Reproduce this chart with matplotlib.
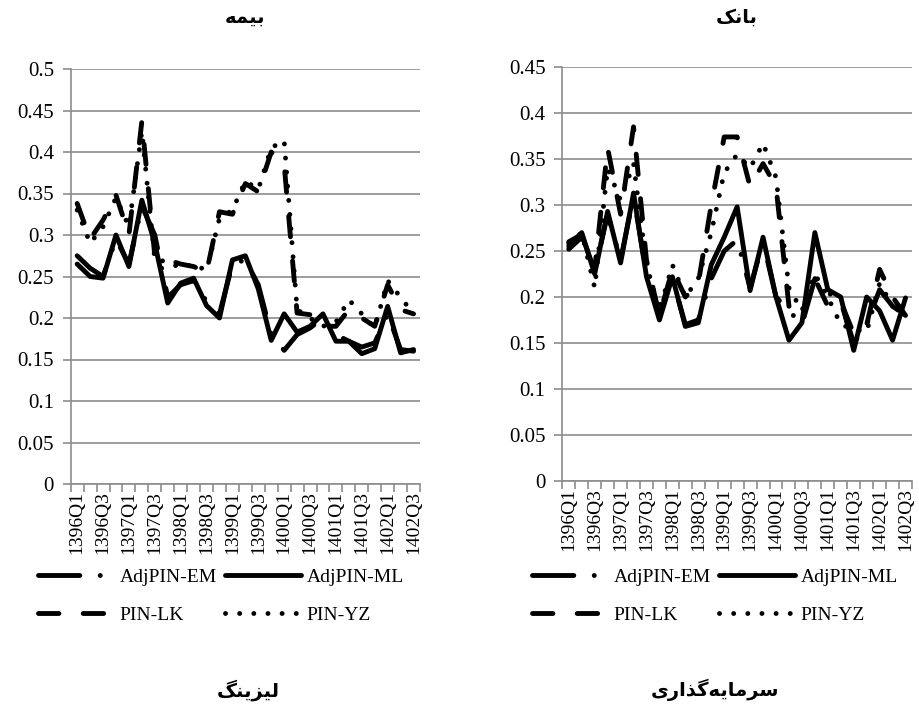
import numpy as np
import matplotlib
matplotlib.use('Agg')
import matplotlib.pyplot as plt
from matplotlib.lines import Line2D

# ---- data ----
quarters = ['1396Q1', '1396Q2', '1396Q3', '1396Q4', '1397Q1', '1397Q2', '1397Q3',
            '1397Q4', '1398Q1', '1398Q2', '1398Q3', '1398Q4', '1399Q1', '1399Q2',
            '1399Q3', '1399Q4', '1400Q1', '1400Q2', '1400Q3', '1400Q4', '1401Q1',
            '1401Q2', '1401Q3', '1401Q4', '1402Q1', '1402Q2', '1402Q3']
series_names = ['AdjPIN-EM', 'AdjPIN-ML', 'PIN-LK', 'PIN-YZ']

# insurance (left panel)
ins_em = [0.275, 0.260, 0.250, 0.295, 0.265, 0.335, 0.300, 0.225, 0.240, 0.245, 0.220, 0.205, 0.265, 0.270,
          0.240, 0.180, 0.161, 0.180, 0.188, 0.200, 0.180, 0.172, 0.165, 0.170, 0.205, 0.162, 0.160]
ins_ml = [0.265, 0.250, 0.248, 0.300, 0.262, 0.342, 0.290, 0.218, 0.242, 0.248, 0.215, 0.200, 0.270, 0.275,
          0.235, 0.173, 0.205, 0.183, 0.190, 0.205, 0.172, 0.172, 0.157, 0.163, 0.214, 0.158, 0.162]
ins_lk = [0.338, 0.295, 0.318, 0.348, 0.300, 0.437, 0.275, 0.270, 0.265, 0.262, 0.255, 0.328, 0.325, 0.362,
          0.352, 0.400, 0.385, 0.206, 0.204, 0.190, 0.190, 0.210, 0.200, 0.190, 0.240, 0.210, 0.205]
ins_yz = [0.330, 0.290, 0.310, 0.345, 0.310, 0.425, 0.270, 0.268, 0.260, 0.265, 0.257, 0.320, 0.330, 0.365,
          0.355, 0.405, 0.414, 0.210, 0.200, 0.190, 0.195, 0.222, 0.205, 0.188, 0.245, 0.225, 0.205]

# bank (right panel)
bank_em = [0.260, 0.268, 0.228, 0.290, 0.240, 0.310, 0.225, 0.180, 0.220, 0.170, 0.175, 0.220, 0.250, 0.262,
           0.210, 0.260, 0.200, 0.185, 0.170, 0.220, 0.205, 0.195, 0.150, 0.170, 0.208, 0.190, 0.180]
bank_ml = [0.255, 0.270, 0.225, 0.293, 0.237, 0.313, 0.222, 0.175, 0.222, 0.168, 0.172, 0.235, 0.265, 0.298,
           0.207, 0.265, 0.200, 0.153, 0.172, 0.270, 0.208, 0.200, 0.142, 0.200, 0.185, 0.153, 0.199]
bank_lk = [0.252, 0.265, 0.230, 0.362, 0.290, 0.385, 0.240, 0.180, 0.230, 0.200, 0.215, 0.300, 0.374, 0.374,
           0.320, 0.345, 0.320, 0.190, 0.175, 0.220, 0.190, 0.195, 0.160, 0.170, 0.230, 0.200, 0.180]
bank_yz = [0.258, 0.270, 0.210, 0.340, 0.305, 0.345, 0.235, 0.185, 0.235, 0.200, 0.220, 0.270, 0.335, 0.355,
           0.340, 0.367, 0.330, 0.210, 0.185, 0.225, 0.200, 0.170, 0.165, 0.162, 0.215, 0.190, 0.180]

top_titles = ['بیمه', 'بانک']
bottom_titles = ['لیزینگ', 'سرمایه\u200cگذاری']

# ---- minimal persian shaping (matplotlib has no bidi / joining) ----
FORMS = {
    'ب': '\uFE8F\uFE90\uFE91\uFE92', 'ی': '\uFBFC\uFBFD\uFBFE\uFBFF',
    'م': '\uFEE1\uFEE2\uFEE3\uFEE4', 'ه': '\uFEE9\uFEEA\uFEEB\uFEEC',
    'ن': '\uFEE5\uFEE6\uFEE7\uFEE8', 'ک': '\uFB8E\uFB8F\uFB90\uFB91',
    'ل': '\uFEDD\uFEDE\uFEDF\uFEE0', 'گ': '\uFB92\uFB93\uFB94\uFB95',
    'س': '\uFEB1\uFEB2\uFEB3\uFEB4', 'ا': '\uFE8D\uFE8E',
    'ز': '\uFEAF\uFEB0', 'ر': '\uFEAD\uFEAE', 'ذ': '\uFEAB\uFEAC',
}
DUAL = set('بیمهنکلگس')


def shape_fa(text):
    out = []
    for i, ch in enumerate(text):
        if ch not in FORMS:
            if ch != '\u200c':
                out.append(ch)
            continue
        prev = text[i - 1] if i > 0 else ''
        nxt = text[i + 1] if i + 1 < len(text) else ''
        j_prev = prev in DUAL
        j_next = ch in DUAL and nxt in FORMS
        f = FORMS[ch]
        if j_prev and j_next:
            out.append(f[3])
        elif j_prev:
            out.append(f[1])
        elif j_next:
            out.append(f[2])
        else:
            out.append(f[0])
    return ''.join(reversed(out))


plt.rcParams['font.family'] = ['Liberation Serif', 'DejaVu Sans']

LW = 3.5
styles = {
    'AdjPIN-EM': dict(linestyle=(0, (8.5, 4.2, 0.01, 4.2)), dash_capstyle='round'),
    'AdjPIN-ML': dict(linestyle='-', solid_capstyle='round'),
    'PIN-LK': dict(linestyle=(0, (4.2, 5.0)), dash_capstyle='round'),
    'PIN-YZ': dict(linestyle=(0, (0.01, 2.9)), dash_capstyle='round'),
}
GRID = '#8c8c8c'


def draw_panel(fig, rect, data, ymax, title, legend_xy):
    ax = fig.add_axes(rect)
    x = np.arange(len(quarters))
    for name, vals in zip(series_names, data):
        ax.plot(x, vals, color='black', lw=LW, solid_joinstyle='round',
                dash_joinstyle='round', **styles[name])

    ax.set_xlim(-0.5, len(quarters) - 0.5)
    ax.set_ylim(0, ymax)
    yt = np.round(np.arange(0, ymax + 0.001, 0.05), 2)
    ax.set_yticks(yt)
    ax.set_yticklabels([f'{v:g}' for v in yt], fontsize=15)
    ax.set_axisbelow(True)
    ax.yaxis.grid(True, color=GRID, lw=1.2)

    # tick marks on category boundaries, labels on every other category
    ax.set_xticks(np.arange(-0.5, len(quarters), 1))
    ax.set_xticklabels([])
    ax.set_xticks(x[::2], minor=True)
    ax.set_xticklabels(quarters[::2], minor=True, rotation=90, fontsize=14)
    ax.tick_params(axis='x', which='major', length=6, color=GRID, width=1.2)
    ax.tick_params(axis='x', which='minor', length=0, pad=5)
    ax.tick_params(axis='y', length=6, color=GRID, width=1.2, pad=6)

    for s in ['top', 'right']:
        ax.spines[s].set_visible(False)
    for s in ['left', 'bottom']:
        ax.spines[s].set_color(GRID)
        ax.spines[s].set_linewidth(1.2)

    cx = rect[0] + rect[2] / 2
    fig.text(cx, 1 - 17 / 711, shape_fa(title), ha='center', va='center',
             fontsize=14, fontweight='bold', family=['DejaVu Sans'])

    handles = [Line2D([], [], color='black', lw=LW, **styles[n]) for n in series_names]
    order = [0, 2, 1, 3]
    fig.legend([handles[i] for i in order], [series_names[i] for i in order],
               loc='upper left', bbox_to_anchor=legend_xy, ncol=2, frameon=False,
               fontsize=14, handlelength=3.9, handletextpad=0.3, columnspacing=0.4,
               labelspacing=1.05, borderpad=0, borderaxespad=0)
    return ax


fig = plt.figure(figsize=(9.19, 7.11), dpi=100)
draw_panel(fig, [70.7 / 919, 1 - 484 / 711, 349.3 / 919, 415 / 711],
           [ins_em, ins_ml, ins_lk, ins_yz], 0.5, top_titles[0], (38 / 919, 1 - 568 / 711))
draw_panel(fig, [562.3 / 919, 1 - 481 / 711, 349.7 / 919, 414 / 711],
           [bank_em, bank_ml, bank_lk, bank_yz], 0.45, top_titles[1], (532 / 919, 1 - 568 / 711))

fig.text(248 / 919, 1 - 690 / 711, shape_fa(bottom_titles[0]), ha='center', va='center',
         fontsize=14, fontweight='bold', family=['DejaVu Sans'])
fig.text(715 / 919, 1 - 690 / 711, shape_fa(bottom_titles[1]), ha='center', va='center',
         fontsize=14, fontweight='bold', family=['DejaVu Sans'])

plt.savefig('out.png', dpi=100)
